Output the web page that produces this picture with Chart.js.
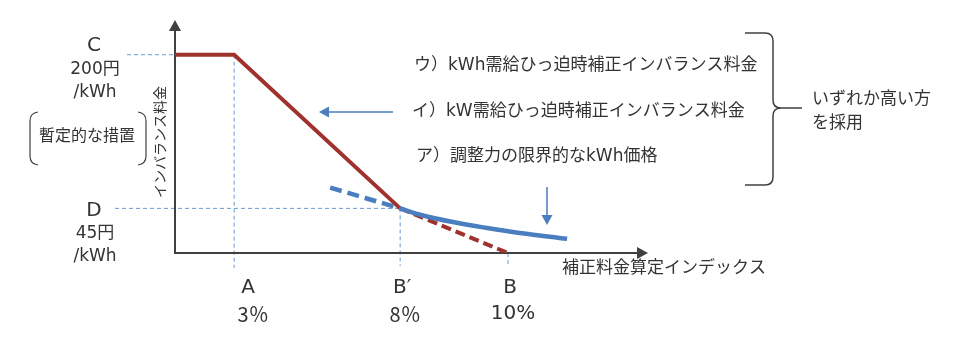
<!DOCTYPE html>
<html>
<head>
<meta charset="utf-8">
<script src="https://cdn.jsdelivr.net/npm/chart.js@4/dist/chart.umd.min.js"></script>
<style>
  body { margin: 0; background: #fff; }
  #wrap { width: 968px; height: 353px; }
</style>
</head>
<body>
<div id="wrap"><canvas id="myChart" width="968" height="353"></canvas></div>
<script>
// schematic x positions (0 = origin, 100 = arrow tip) and price in yen
const xPos = [12.5, 47.6, 70.4];          // A, B', B
const xNames = ["A", "B\u2032", "B"];
const xPct = ["3\uff05", "8\uff05", "10%"];
const yLevels = [200, 45];                // C, D
const yNames = ["C", "D"];
const yUnits = ["200円", "45円"];

const redSolidX = [0, 12.5, 47.6];
const redSolidY = [200, 200, 45];
const redDashX = [47.6, 70.4];
const redDashY = [45, 0];
const blueDashX = [32.8, 40.2, 47.6];
const blueDashY = [66, 55.5, 45];
const blueX = [47.6, 51.8, 58.8, 66.0, 72.9, 82.9];
const blueY = [45, 38.6, 31.2, 25.2, 20.2, 14.3];

const legendLines = [
  "ウ）kWh需給ひっ迫時補正インバランス料金",
  "イ）kW需給ひっ迫時補正インバランス料金",
  "ア）調整力の限界的なkWh価格",
];

const RED = "#A0322E";
const BLUE = "#4A7EBF";
const GUIDE = "#6A9AD6";
const INK = "#404040";
const FONT = '"DejaVu Sans", "Noto Sans CJK JP", sans-serif';
const CJK = '"Noto Sans CJK JP", sans-serif';

const pts = (xs, ys) => xs.map((x, i) => ({ x: x, y: ys[i] }));

const arrowHead = (c, x, y, dir, size) => {
  c.beginPath();
  if (dir === "up") { c.moveTo(x, y); c.lineTo(x - size * 0.55, y + size); c.lineTo(x + size * 0.55, y + size); }
  if (dir === "right") { c.moveTo(x, y); c.lineTo(x - size, y - size * 0.55); c.lineTo(x - size, y + size * 0.55); }
  if (dir === "left") { c.moveTo(x, y); c.lineTo(x + size, y - size * 0.55); c.lineTo(x + size, y + size * 0.55); }
  if (dir === "down") { c.moveTo(x, y); c.lineTo(x - size * 0.55, y - size); c.lineTo(x + size * 0.55, y - size); }
  c.closePath();
  c.fill();
};

const diagram = {
  id: "diagram",
  beforeDatasetsDraw(chart) {
    const c = chart.ctx;
    const xs = chart.scales.x;
    const ys = chart.scales.y;
    const x0 = xs.getPixelForValue(0);
    const y0 = ys.getPixelForValue(0);
    c.save();
    // guides
    c.strokeStyle = GUIDE;
    c.lineWidth = 1;
    c.setLineDash([4, 3]);
    const yC = ys.getPixelForValue(yLevels[0]);
    const yD = ys.getPixelForValue(yLevels[1]);
    const xA = xs.getPixelForValue(xPos[0]);
    const xB1 = xs.getPixelForValue(xPos[1]);
    const xB = xs.getPixelForValue(xPos[2]);
    c.beginPath();
    c.moveTo(127, yC); c.lineTo(xA, yC);
    c.moveTo(115, yD); c.lineTo(xB1, yD);
    c.moveTo(xA, yC); c.lineTo(xA, y0 + 15);
    c.moveTo(xB1, yD); c.lineTo(xB1, y0 + 13);
    c.moveTo(xB, y0); c.lineTo(xB, y0 + 13);
    c.stroke();
    c.setLineDash([]);
    // axes
    c.strokeStyle = INK;
    c.fillStyle = INK;
    c.lineWidth = 2;
    const yTop = ys.getPixelForValue(ys.max);
    const xEnd = xs.getPixelForValue(xs.max);
    c.beginPath();
    c.moveTo(x0, y0 + 1); c.lineTo(x0, yTop + 8);
    c.moveTo(x0 - 1, y0); c.lineTo(xEnd - 8, y0);
    c.stroke();
    arrowHead(c, x0, yTop - 2, "up", 11);
    arrowHead(c, xEnd, y0, "right", 11);
    c.restore();
  },
  afterDraw(chart) {
    const c = chart.ctx;
    const xs = chart.scales.x;
    const ys = chart.scales.y;
    const y0 = ys.getPixelForValue(0);
    c.save();
    c.fillStyle = "#333";
    c.textAlign = "center";
    c.textBaseline = "middle";
    // y labels
    yLevels.forEach((v, i) => {
      const py = ys.getPixelForValue(v);
      c.font = "20px " + FONT;
      c.fillText(yNames[i], 94, py - (i === 0 ? 9 : -2));
      c.font = "17px " + FONT;
      const base = i === 0 ? py + 15 : py + 25;
      c.fillText(yUnits[i], 95, base);
      c.fillText("/kWh", 95, base + 23);
    });
    // x labels
    const nameDx = [14, 2, 2];
    const pctDx = [19, 5, 5];
    xPos.forEach((v, i) => {
      const px = xs.getPixelForValue(v);
      c.font = "20px " + FONT;
      c.fillText(xNames[i], px + nameDx[i], y0 + 35);
      c.font = "20px " + (i < 2 ? CJK : FONT);
      c.fillText(xPct[i], px + pctDx[i], y0 + 61);
    });
    // temporary measure with brackets
    c.font = "16px " + FONT;
    c.fillText("暫定的な措置", 87, 137);
    c.strokeStyle = INK;
    c.lineWidth = 1.2;
    c.beginPath();
    c.moveTo(38, 112); c.quadraticCurveTo(30, 113, 30, 121);
    c.lineTo(30, 156); c.quadraticCurveTo(30, 164, 38, 165);
    c.moveTo(138, 112); c.quadraticCurveTo(146, 113, 146, 121);
    c.lineTo(146, 156); c.quadraticCurveTo(146, 164, 138, 165);
    c.stroke();
    // axis titles
    c.font = "14px " + FONT;
    c.save();
    c.translate(161, 142);
    c.rotate(-Math.PI / 2);
    c.fillText("インバランス料金", 0, 0);
    c.restore();
    c.font = "17px " + FONT;
    c.textAlign = "left";
    c.fillText("補正料金算定インデックス", 562, y0 + 16);
    // legend lines
    c.fillText(legendLines[0], 414, 66);
    c.fillText(legendLines[1], 412, 112);
    c.fillText(legendLines[2], 416, 157);
    // brace
    c.lineWidth = 1.5;
    c.beginPath();
    c.moveTo(745, 33); c.lineTo(765, 33); c.quadraticCurveTo(773, 33, 773, 41);
    c.lineTo(773, 100); c.quadraticCurveTo(773, 108, 781, 108); c.lineTo(802, 108);
    c.moveTo(781, 108); c.quadraticCurveTo(773, 108, 773, 116);
    c.lineTo(773, 177); c.quadraticCurveTo(773, 185, 765, 185); c.lineTo(745, 185);
    c.stroke();
    c.font = "17px " + FONT;
    c.fillText("いずれか高い方", 812, 100);
    c.fillText("を採用", 812, 124);
    // pointer arrows
    c.strokeStyle = BLUE;
    c.fillStyle = BLUE;
    c.lineWidth = 1.5;
    c.beginPath();
    c.moveTo(393, 112); c.lineTo(327, 112);
    c.moveTo(547, 187); c.lineTo(547, 217);
    c.stroke();
    arrowHead(c, 319, 112, "left", 10);
    arrowHead(c, 547, 225, "down", 10);
    c.restore();
  },
};

const init = () => {
  const ctx = document.getElementById("myChart").getContext("2d");
  new Chart(ctx, {
    type: "scatter",
    data: {
      datasets: [
        { data: pts(blueX, blueY), showLine: true, borderColor: BLUE, borderWidth: 4.5, pointRadius: 0, tension: 0.4, order: 0 },
        { data: pts(blueDashX, blueDashY), showLine: true, borderColor: BLUE, borderWidth: 4.5, borderDash: [12, 6], pointRadius: 0, order: 1 },
        { data: pts(redSolidX, redSolidY), showLine: true, borderColor: RED, borderWidth: 4, pointRadius: 0, order: 2 },
        { data: pts(redDashX, redDashY), showLine: true, borderColor: RED, borderWidth: 4, borderDash: [10, 5], pointRadius: 0, order: 3 },
      ],
    },
    options: {
      responsive: false,
      animation: false,
      layout: { padding: { left: 175, right: 320, top: 22, bottom: 100 } },
      plugins: { legend: { display: false }, tooltip: { enabled: false } },
      scales: {
        x: { type: "linear", min: 0, max: 100, display: false },
        y: { type: "linear", min: 0, max: 233, display: false },
      },
    },
    plugins: [diagram],
  });
};

window.addEventListener("load", init);
</script>
</body>
</html>
